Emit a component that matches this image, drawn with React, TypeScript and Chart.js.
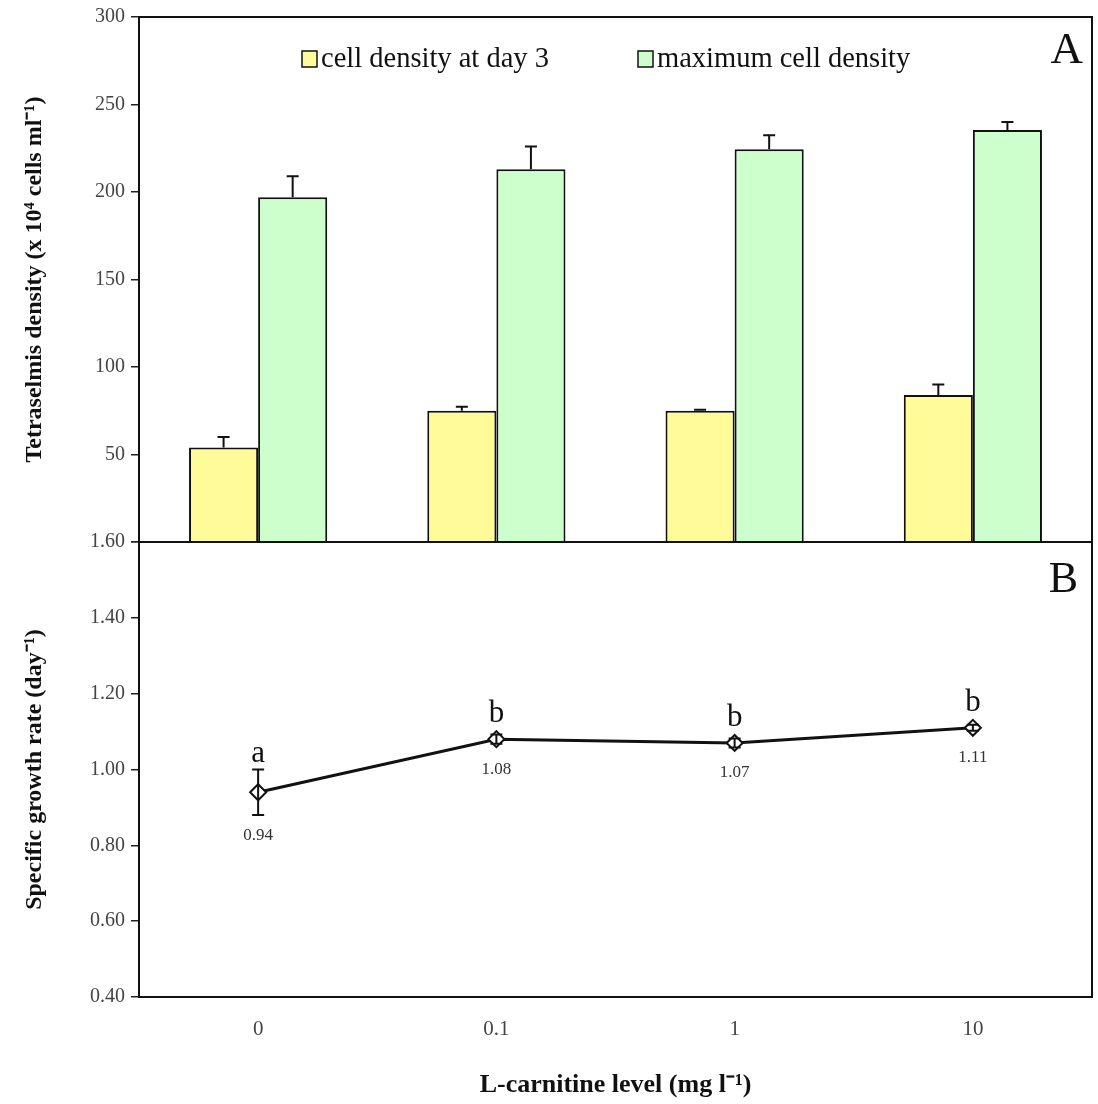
import React, { useEffect, useRef } from "react";
import { Chart, registerables } from "chart.js";

Chart.register(...registerables);

// ---------------- data ----------------
const categories = ["0", "0.1", "1", "10"];

const day3Label = "cell density at day 3";
const day3Density = [54, 75, 75, 84];
const day3Error = [6, 2.3, 0.6, 6];

const maxLabel = "maximum cell density";
const maxDensity = [197, 213, 224.5, 235.5];
const maxError = [12, 13, 8, 4.5];

const densityTicks = [0, 50, 100, 150, 200, 250, 300];

const growthRate = [0.94, 1.08, 1.07, 1.11];
const growthError = [0.06, 0.012, 0.012, 0.008];
const growthLetters = ["a", "b", "b", "b"];
const growthTicks = [0.4, 0.6, 0.8, 1.0, 1.2, 1.4, 1.6];

const day3Color = "#FFFB99";
const maxColor = "#CCFFCC";

const SERIF = "'Liberation Serif', 'Times New Roman', Times, serif";

// ---------------- plugins ----------------
const framePlugin = {
  id: "frame",
  afterDraw(chart: any) {
    const { ctx, chartArea: a } = chart;
    ctx.save();
    ctx.strokeStyle = "#111";
    ctx.lineWidth = 2;
    ctx.strokeRect(a.left, a.top, a.right - a.left, a.bottom - a.top);
    ctx.restore();
  },
};

function barErrorPlugin(errors: number[][]) {
  return {
    id: "barErrors",
    afterDatasetsDraw(chart: any) {
      const { ctx } = chart;
      const ys = chart.scales.y;
      ctx.save();
      ctx.strokeStyle = "#111";
      ctx.lineWidth = 2;
      chart.data.datasets.forEach((ds: any, i: number) => {
        const meta = chart.getDatasetMeta(i);
        meta.data.forEach((el: any, j: number) => {
          const v = ds.data[j];
          const yTop = ys.getPixelForValue(v + errors[i][j]);
          ctx.beginPath();
          ctx.moveTo(el.x, el.y);
          ctx.lineTo(el.x, yTop);
          ctx.moveTo(el.x - 6, yTop);
          ctx.lineTo(el.x + 6, yTop);
          ctx.stroke();
        });
      });
      ctx.restore();
    },
  };
}

const legendPanelPlugin = {
  id: "legendPanel",
  afterDraw(chart: any) {
    const { ctx, chartArea: a } = chart;
    const offsets = [163, 499];
    ctx.save();
    chart.data.datasets.forEach((ds: any, i: number) => {
      const x = a.left + offsets[i];
      const y = a.top + 42;
      ctx.fillStyle = ds.backgroundColor;
      ctx.fillRect(x, y - 8, 15, 16);
      ctx.strokeStyle = "#111";
      ctx.lineWidth = 1.5;
      ctx.strokeRect(x, y - 8, 15, 16);
      ctx.fillStyle = "#111";
      ctx.font = `28.5px ${SERIF}`;
      ctx.textBaseline = "middle";
      ctx.textAlign = "left";
      ctx.fillText(ds.label, x + 19, y + 1);
    });
    ctx.font = `45px ${SERIF}`;
    ctx.textAlign = "right";
    ctx.textBaseline = "alphabetic";
    ctx.fillText("A", a.right - 9, a.top + 46);
    ctx.restore();
  },
};

const growthPlugin = {
  id: "growthExtras",
  afterDatasetsDraw(chart: any) {
    const { ctx, chartArea: a } = chart;
    const ys = chart.scales.y;
    const meta = chart.getDatasetMeta(0);
    ctx.save();
    ctx.strokeStyle = "#111";
    ctx.fillStyle = "#111";
    ctx.lineWidth = 2;
    meta.data.forEach((el: any, j: number) => {
      const v = growthRate[j];
      const e = growthError[j];
      const yT = ys.getPixelForValue(v + e);
      const yB = ys.getPixelForValue(v - e);
      ctx.beginPath();
      ctx.moveTo(el.x, yT);
      ctx.lineTo(el.x, yB);
      ctx.moveTo(el.x - 6, yT);
      ctx.lineTo(el.x + 6, yT);
      ctx.moveTo(el.x - 6, yB);
      ctx.lineTo(el.x + 6, yB);
      ctx.stroke();
      const top = Math.min(yT, el.y - 9);
      const bottom = Math.max(yB, el.y + 9);
      ctx.font = `31px ${SERIF}`;
      ctx.textAlign = "center";
      ctx.textBaseline = "alphabetic";
      ctx.fillText(growthLetters[j], el.x, top - 8);
      ctx.font = `17px ${SERIF}`;
      ctx.textBaseline = "middle";
      ctx.fillStyle = "#333";
      ctx.fillText(v.toFixed(2), el.x, bottom + 21);
      ctx.fillStyle = "#111";
    });
    ctx.font = `44px ${SERIF}`;
    ctx.textAlign = "right";
    ctx.textBaseline = "alphabetic";
    ctx.fillText("B", a.right - 14, a.top + 50);
    ctx.restore();
  },
};

// ---------------- component ----------------
export default function App() {
  const topRef = useRef<HTMLCanvasElement>(null);
  const botRef = useRef<HTMLCanvasElement>(null);

  useEffect(() => {
    const tickFont = { family: SERIF, size: 20 };
    const titleFont = { family: SERIF, size: 24, weight: "bold" as const };

    const top = new Chart(topRef.current!, {
      type: "bar",
      data: {
        labels: categories,
        datasets: [
          {
            label: day3Label,
            data: day3Density,
            backgroundColor: day3Color,
            borderColor: "#111",
            borderWidth: 2,
          },
          {
            label: maxLabel,
            data: maxDensity,
            backgroundColor: maxColor,
            borderColor: "#111",
            borderWidth: 2,
          },
        ],
      },
      options: {
        responsive: false,
        animation: false,
        devicePixelRatio: 1,
        layout: { autoPadding: false, padding: { left: 0, right: 6, top: 17, bottom: 3 } },
        datasets: { bar: { categoryPercentage: 0.58, barPercentage: 1.0 } },
        plugins: { legend: { display: false }, tooltip: { enabled: false } },
        scales: {
          x: { display: false, offset: true },
          y: {
            min: 0,
            max: 300,
            afterBuildTicks: (s: any) => {
              s.ticks = densityTicks.map((v) => ({ value: v }));
            },
            afterFit: (s: any) => {
              s.width = 139;
              s.paddingTop = 0;
              s.paddingBottom = 0;
            },
            ticks: {
              padding: 6,
              color: "#444",
              font: tickFont,
              callback: (v: any) => (Number(v) === 0 ? "" : String(v)),
            },
            grid: {
              drawOnChartArea: false,
              drawTicks: true,
              tickLength: 8,
              color: "#222",
              lineWidth: 1.5,
            },
            border: { display: true, color: "#111", width: 2 },
            title: {
              display: true,
              text: "Tetraselmis density (x 10\u2074 cells ml\u207B\u00B9)",
              font: titleFont,
              color: "#111",
              padding: { top: 20, bottom: 0 },
            },
          },
        },
      },
      plugins: [barErrorPlugin([day3Error, maxError]), legendPanelPlugin, framePlugin],
    });

    const bot = new Chart(botRef.current!, {
      type: "line",
      data: {
        labels: categories,
        datasets: [
          {
            label: "Specific growth rate",
            data: growthRate,
            borderColor: "#111",
            borderWidth: 3,
            pointStyle: "rectRot",
            pointRadius: 8,
            pointBorderWidth: 2,
            pointBackgroundColor: "#fff",
            pointBorderColor: "#111",
            tension: 0,
          },
        ],
      },
      options: {
        responsive: false,
        animation: false,
        devicePixelRatio: 1,
        layout: { autoPadding: false, padding: { left: 0, right: 6, top: 22, bottom: 0 } },
        plugins: { legend: { display: false }, tooltip: { enabled: false } },
        scales: {
          x: {
            offset: true,
            afterFit: (s: any) => {
              s.height = 107;
              s.paddingLeft = 0;
              s.paddingRight = 0;
            },
            grid: { display: false, drawTicks: false },
            border: { display: true, color: "#111", width: 2 },
            ticks: { padding: 20, color: "#444", font: { family: SERIF, size: 21 } },
            title: {
              display: true,
              text: "L-carnitine level (mg l\u207B\u00B9)",
              font: { family: SERIF, size: 26, weight: "bold" as const },
              color: "#111",
              padding: { top: 0, bottom: 3 },
            },
          },
          y: {
            min: 0.4,
            max: 1.6,
            afterBuildTicks: (s: any) => {
              s.ticks = growthTicks.map((v) => ({ value: v }));
            },
            afterFit: (s: any) => {
              s.width = 139;
              s.paddingTop = 0;
              s.paddingBottom = 0;
            },
            ticks: {
              padding: 6,
              color: "#444",
              font: tickFont,
              callback: (v: any) => Number(v).toFixed(2),
            },
            grid: {
              drawOnChartArea: false,
              drawTicks: true,
              tickLength: 8,
              color: "#222",
              lineWidth: 1.5,
            },
            border: { display: true, color: "#111", width: 2 },
            title: {
              display: true,
              text: "Specific growth rate (day\u207B\u00B9)",
              font: titleFont,
              color: "#111",
              padding: { top: 20, bottom: 0 },
            },
          },
        },
      },
      plugins: [growthPlugin, framePlugin],
    });

    return () => {
      top.destroy();
      bot.destroy();
    };
  }, []);

  return (
    <div
      style={{
        position: "absolute",
        left: 0,
        top: 0,
        width: 1098,
        height: 1104,
        background: "#fff",
      }}
    >
      <canvas
        ref={topRef}
        width={1098}
        height={545}
        style={{ position: "absolute", left: 0, top: 0 }}
      />
      <canvas
        ref={botRef}
        width={1098}
        height={584}
        style={{ position: "absolute", left: 0, top: 520 }}
      />
    </div>
  );
}
